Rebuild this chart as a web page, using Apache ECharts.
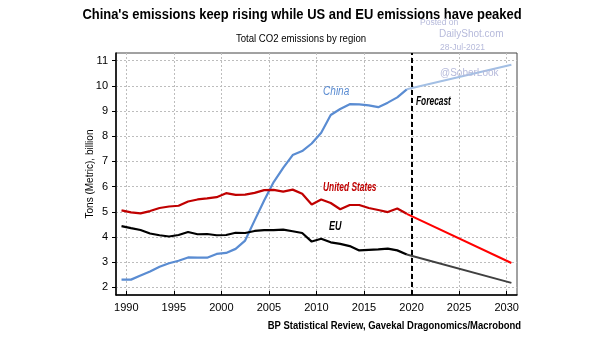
<!DOCTYPE html>
<html>
<head>
<meta charset="utf-8">
<script src="https://cdn.jsdelivr.net/npm/echarts@6/dist/echarts.min.js"></script>
<style>html,body{margin:0;padding:0;background:#fff;}#chart{width:605px;height:341px;}</style>
</head>
<body>
<div id="chart"></div>
<script>
// ---- data ----
const years = [1990,1991,1992,1993,1994,1995,1996,1997,1998,1999,2000,2001,2002,2003,2004,2005,2006,2007,2008,2009,2010,2011,2012,2013,2014,2015,2016,2017,2018,2019,2020];
const china = [2.31,2.31,2.47,2.63,2.82,2.96,3.06,3.19,3.18,3.18,3.33,3.37,3.53,3.86,4.66,5.45,6.18,6.74,7.25,7.41,7.71,8.14,8.84,9.08,9.27,9.26,9.22,9.15,9.33,9.54,9.86];
const us = [5.06,4.98,4.94,5.03,5.15,5.21,5.24,5.41,5.49,5.53,5.58,5.74,5.67,5.68,5.75,5.86,5.87,5.80,5.88,5.72,5.29,5.49,5.35,5.10,5.27,5.27,5.15,5.07,4.99,5.13,4.92];
const eu = [4.43,4.35,4.28,4.14,4.07,4.02,4.08,4.20,4.11,4.12,4.07,4.08,4.17,4.16,4.24,4.27,4.27,4.29,4.23,4.16,3.82,3.93,3.79,3.73,3.64,3.47,3.49,3.51,3.54,3.47,3.31];
const forecastYears = [2020, 2031];
const chinaForecast = [9.86, 10.83];
const usForecast = [4.92, 2.97];
const euForecast = [3.31, 2.18];
const xTickLabels = [1990,1995,2000,2005,2010,2015,2020,2025,2030];
const yTickLabels = [2,3,4,5,6,7,8,9,10,11];
const forecastStartTick = 2020;

// ---- chart ----
const SANS = '"Liberation Sans",Arial,sans-serif';
const pair = (xs, ys) => xs.map((x, i) => [x, ys[i]]);
const chart = echarts.init(document.getElementById('chart'));
const lineS = (name, xs, ys, color, w) => ({
  name, type: 'line', data: pair(xs, ys), showSymbol: false, symbol: 'none',
  lineStyle: { color, width: w }, z: 3, animation: false
});
const chinaHist = lineS('China', years, china, '#5a8cd2', 2.2);
chinaHist.markLine = {
  silent: true, symbol: 'none', label: { show: false },
  lineStyle: { color: '#000', width: 2, type: [5, 3] },
  data: [{ xAxis: forecastStartTick + 0.5 }], animation: false
};
const txt = (x, y, text, font, fill, align, sx) => ({
  type: 'text', x, y, scaleX: sx || 1, z: 10,
  style: { text, font, fill, textAlign: align, textVerticalAlign: 'middle' }
});
const WM = '#b6badb';
const option = {
  animation: false,
  grid: { left: 116, right: 88, top: 53, bottom: 46, show: true, borderColor: '#444', borderWidth: 1 },
  xAxis: {
    type: 'value', min: 1989.42, max: 2031.59,
    axisLine: { show: true, lineStyle: { color: '#000', width: 1.5 } },
    axisTick: { show: true, inside: true, length: 4, lineStyle: { color: '#000' }, customValues: xTickLabels.map(v => v + 0.5) },
    axisLabel: { customValues: xTickLabels.map(v => v + 0.5), formatter: v => String(Math.floor(v)), color: '#000', fontFamily: SANS, fontSize: 11, margin: 7 },
    splitLine: { show: true, lineStyle: { color: '#bdbdbd', type: [2, 2], width: 1 } }
  },
  yAxis: {
    type: 'value', min: 1.7, max: 11.3,
    name: 'Tons (Metric), billion', nameLocation: 'middle', nameGap: 21, nameRotate: 90,
    nameMoveOverlap: false,
    nameTextStyle: { color: '#000', fontFamily: SANS, fontSize: 10 },
    axisLine: { show: true, lineStyle: { color: '#000', width: 1.5 } },
    axisTick: { show: true, length: 4, lineStyle: { color: '#000' }, customValues: yTickLabels },
    axisLabel: { customValues: yTickLabels, color: '#000', fontFamily: SANS, fontSize: 11, margin: 8 },
    splitLine: { show: true, lineStyle: { color: '#bdbdbd', type: [2, 2], width: 1 } }
  },
  series: [
    chinaHist,
    lineS('China forecast', forecastYears, chinaForecast, '#a3bfe4', 2),
    lineS('United States', years, us, '#c00000', 2.2),
    lineS('United States forecast', forecastYears, usForecast, '#ff0000', 2),
    lineS('EU', years, eu, '#000000', 2.2),
    lineS('EU forecast', forecastYears, euForecast, '#404040', 2)
  ],
  graphic: [
    txt(302, 15, "China's emissions keep rising while US and EU emissions have peaked", 'bold 14px ' + SANS, '#000', 'center', 0.925),
    txt(301, 39, 'Total CO2 emissions by region', '10px ' + SANS, '#000', 'center', 0.96),
    txt(521, 326, 'BP Statistical Review, Gavekal Dragonomics/Macrobond', 'bold 10.5px ' + SANS, '#000', 'right', 0.9),
    txt(323, 92, 'China', 'italic 12px ' + SANS, '#5a8cd2', 'left', 0.84),
    txt(323, 188, 'United States', 'italic bold 12.5px ' + SANS, '#c00000', 'left', 0.67),
    txt(329, 227, 'EU', 'italic bold 12.5px ' + SANS, '#000', 'left', 0.72),
    txt(416, 102, 'Forecast', 'italic bold 12.5px ' + SANS, '#000', 'left', 0.67),
    txt(420, 23, 'Posted on', '8.5px ' + SANS, WM, 'left'),
    txt(439, 34, 'DailyShot.com', '10px ' + SANS, WM, 'left'),
    txt(440, 48, '28-Jul-2021', '8.5px ' + SANS, WM, 'left'),
    txt(440, 73, '@SoberLook', '10px ' + SANS, WM, 'left')
  ]
};
chart.setOption(option);
</script>
</body>
</html>
